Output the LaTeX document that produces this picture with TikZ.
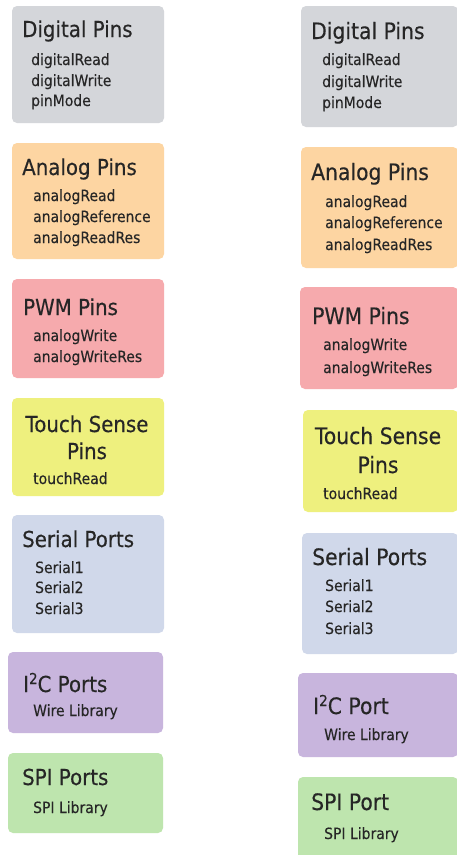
\documentclass[tikz,border=0pt]{standalone}
\usepackage{fontspec}
\setmainfont{DejaVu Sans}[FakeStretch=0.9,FakeBold=0.3]
\definecolor{cgray}{HTML}{D4D6DA}
\definecolor{corange}{HTML}{FDD5A2}
\definecolor{cpink}{HTML}{F6AAAD}
\definecolor{cyellow}{HTML}{EEF07E}
\definecolor{cblue}{HTML}{D0D8EA}
\definecolor{cpurple}{HTML}{C8B5DD}
\definecolor{cgreen}{HTML}{BEE5AE}
\definecolor{ctext}{HTML}{262626}
\tikzset{
  panel/.style={rounded corners=5pt},
  ttl/.style={inner sep=0pt, anchor=base west, text=ctext, font=\fontsize{22}{26}\selectfont},
  ttlr/.style={inner sep=0pt, anchor=base west, text=ctext, font=\fontsize{22.6}{26}\selectfont},
  ttlc/.style={ttl, anchor=base},
  ttlrc/.style={ttlr, anchor=base},
  sub/.style={inner sep=0pt, anchor=base west, text=ctext, font=\fontsize{15.5}{18}\selectfont},
}
\newcommand{\sqsup}{\raisebox{8pt}{\fontsize{15}{15}\selectfont 2}}
\begin{document}
\begin{tikzpicture}[x=1pt,y=-1pt]
\useasboundingbox[fill=white] (0,0) rectangle (456,855);
% ---------- left column ----------
\fill[panel,cgray]   (12,6)   rectangle (164,123);
\fill[panel,corange] (12,143) rectangle (164,259);
\fill[panel,cpink]   (12,279) rectangle (164,378);
\fill[panel,cyellow] (12,398) rectangle (164,496);
\fill[panel,cblue]   (12,515) rectangle (164,633);
\fill[panel,cpurple] (8,652)  rectangle (163,733);
\fill[panel,cgreen]  (8,753)  rectangle (163,833);

\node[ttl] (ldigt) at (22,37) {Digital Pins};
\node[sub] (ldig1) at (31,65) {digitalRead};
\node[sub] (ldig2) at (31,86) {digitalWrite};
\node[sub] (ldig3) at (31,106) {pinMode};

\node[ttl] (lanat) at (22,175) {Analog Pins};
\node[sub] (lana1) at (33,201) {analogRead};
\node[sub] (lana2) at (33,222) {analogReference};
\node[sub] (lana3) at (33,243) {analogReadRes};

\node[ttl] (lpwmt) at (23,315) {PWM Pins};
\node[sub] (lpwm1) at (33,341) {analogWrite};
\node[sub] (lpwm2) at (33,362) {analogWriteRes};

\node[ttlc] (ltout) at (87,432) {Touch Sense};
\node[ttlc] (ltoup) at (87,459) {Pins};
\node[sub] (ltou1) at (33,484) {touchRead};

\node[ttl] (lsert) at (22,547) {Serial Ports};
\node[sub] (lser1) at (35,573) {Serial1};
\node[sub] (lser2) at (35,593) {Serial2};
\node[sub] (lser3) at (35,614) {Serial3};

\node[ttl] (li2ct) at (23,692) {I\sqsup C Ports};
\node[sub] (li2c1) at (33,716) {Wire Library};

\node[ttl] (lspit) at (22,785) {SPI Ports};
\node[sub] (lspi1) at (33,813) {SPI Library};

% ---------- right column ----------
\fill[panel,cgray]   (301,6)   rectangle (458,127);
\fill[panel,corange] (301,147) rectangle (458,268);
\fill[panel,cpink]   (300,287) rectangle (458,389);
\fill[panel,cyellow] (303,410) rectangle (458,512);
\fill[panel,cblue]   (302,533) rectangle (458,654);
\fill[panel,cpurple] (298,673) rectangle (458,757);
\fill[panel,cgreen]  (298,777) rectangle (458,862);

\node[ttlr] (rdigt) at (311,39) {Digital Pins};
\node[sub] (rdig1) at (322,65) {digitalRead};
\node[sub] (rdig2) at (322,87) {digitalWrite};
\node[sub] (rdig3) at (322,108) {pinMode};

\node[ttlr] (ranat) at (311,180) {Analog Pins};
\node[sub] (rana1) at (325,207) {analogRead};
\node[sub] (rana2) at (325,228) {analogReference};
\node[sub] (rana3) at (325,250) {analogReadRes};

\node[ttlr] (rpwmt) at (312,324) {PWM Pins};
\node[sub] (rpwm1) at (323,350) {analogWrite};
\node[sub] (rpwm2) at (323,373) {analogWriteRes};

\node[ttlrc] (rtout) at (378,444) {Touch Sense};
\node[ttlrc] (rtoup) at (378,473) {Pins};
\node[sub] (rtou1) at (323,499) {touchRead};

\node[ttlr] (rsert) at (312,565) {Serial Ports};
\node[sub] (rser1) at (325,591) {Serial1};
\node[sub] (rser2) at (325,612) {Serial2};
\node[sub] (rser3) at (325,634) {Serial3};

\node[ttlr] (ri2ct) at (313,714) {I\sqsup C Port};
\node[sub] (ri2c1) at (324,740) {Wire Library};

\node[ttlr] (rspit) at (311,810) {SPI Port};
\node[sub] (rspi1) at (324,839) {SPI Library};
\end{tikzpicture}
\end{document}
